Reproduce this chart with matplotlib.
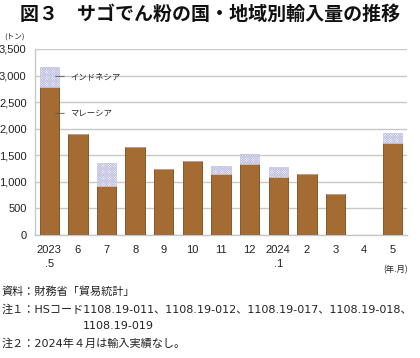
import matplotlib
matplotlib.use("Agg")
import matplotlib.pyplot as plt
import numpy as np

plt.rcParams["font.family"] = ["Noto Sans CJK JP", "DejaVu Sans"]
plt.rcParams["hatch.color"] = "#8486c8"
plt.rcParams["hatch.linewidth"] = 0.5

months = ["2023\n.5", "6", "7", "8", "9", "10", "11", "12", "2024\n.1", "2", "3", "4", "5"]
malaysia = [2790, 1905, 930, 1650, 1243, 1394, 1150, 1337, 1098, 1155, 778, 0, 1727]
indonesia = [370, 0, 420, 0, 0, 0, 155, 188, 188, 0, 0, 0, 188]
yticks = [0, 500, 1000, 1500, 2000, 2500, 3000, 3500]

BROWN = "#a46b33"; EDGE = "#7a4a1e"; GRID = "#c8c8c8"; INK = "#222222"
MIX = ["DejaVu Sans", "Noto Sans CJK JP"]

fig = plt.figure(figsize=(4.2, 3.58), dpi=100)
ax = fig.add_axes([35 / 420, 1 - 235 / 358, (407 - 35) / 420, (235 - 49) / 358])

x = np.arange(len(months))
ax.bar(x, malaysia, width=0.68, color=BROWN, edgecolor=EDGE, lw=0.6, zorder=3)
ax.bar(x, indonesia, bottom=malaysia, width=0.68, color="white", hatch="x" * 14,
       edgecolor="#c0c1e0", lw=0.5, zorder=3)

ax.set_ylim(0, 3500)
ax.set_xlim(-0.5, len(months) - 0.5)
ax.set_yticks(yticks)
ax.set_yticklabels(["{:,}".format(v) for v in yticks], fontsize=8, color=INK,
                   family=["Liberation Sans"])
ax.set_xticks(x)
ax.set_xticklabels(months, fontsize=8, color=INK, family=["Liberation Sans"],
                   linespacing=1.5, va="top")
ax.tick_params(length=0, pad=6)
ax.tick_params(axis="x", pad=7)
ax.yaxis.grid(True, color=GRID, lw=1, zorder=0)
for s in ["top", "right"]:
    ax.spines[s].set_visible(False)
for s in ["left", "bottom"]:
    ax.spines[s].set_color(GRID)
    ax.spines[s].set_linewidth(1)

# series labels with leader lines
for label, yv in (("インドネシア", 2985), ("マレーシア", 2290)):
    ax.annotate(label, xy=(0.22, yv), xytext=(0.72, yv), fontsize=6,
                va="center", color=INK,
                arrowprops=dict(arrowstyle="-", color="#555555", lw=0.6,
                                shrinkA=2, shrinkB=0))

fig.text(0.5, 1 - 14 / 358, "図３　サゴでん粉の国・地域別輸入量の推移", ha="center",
         va="center", fontsize=13.7, fontweight="bold", color="#111111")
fig.text(4 / 420, 1 - 37 / 358, "(トン)", fontsize=5.5, va="center", color=INK)
fig.text(408 / 420, 1 - 270 / 358, "(年.月)", fontsize=6, va="center", ha="right", color=INK)

notes = [
    (2, 292, "資料：財務省「貿易統計」"),
    (2, 310, "注１：HSコード1108.19-011、1108.19-012、1108.19-017、1108.19-018、"),
    (83, 326, "1108.19-019"),
    (2, 344, "注２：2024年４月は輸入実績なし。"),
]
for xx, yy, t in notes:
    fig.text(xx / 420, 1 - yy / 358, t, fontsize=8.0, va="center", color=INK, family=MIX)

fig.savefig("out.png", dpi=100, facecolor="white")
